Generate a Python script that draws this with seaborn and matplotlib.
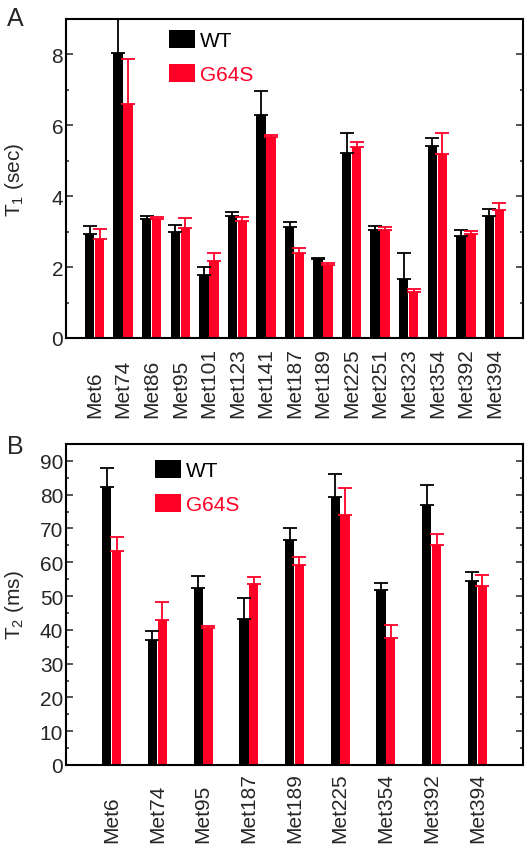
import numpy as np
import pandas as pd
import matplotlib
matplotlib.use("Agg")
import matplotlib.pyplot as plt
import matplotlib.transforms as mtransforms
from matplotlib.ticker import MultipleLocator
import seaborn as sns

# data
residues_a = ["Met6", "Met74", "Met86", "Met95", "Met101", "Met123", "Met141", "Met187",
              "Met189", "Met225", "Met251", "Met323", "Met354", "Met392", "Met394"]
t1_wt = [2.94, 8.05, 3.36, 2.98, 1.78, 3.44, 6.30, 3.14, 2.23, 5.22, 3.05, 1.67, 5.43, 2.87, 3.43]
t1_wt_err = [0.23, 1.30, 0.07, 0.22, 0.22, 0.11, 0.66, 0.14, 0.03, 0.57, 0.12, 0.72, 0.21, 0.19, 0.21]
t1_mut = [2.80, 6.61, 3.35, 3.10, 2.18, 3.30, 5.68, 2.39, 2.07, 5.38, 3.06, 1.29, 5.20, 2.94, 3.60]
t1_mut_err = [0.28, 1.27, 0.07, 0.28, 0.21, 0.11, 0.06, 0.15, 0.05, 0.16, 0.07, 0.09, 0.58, 0.07, 0.21]

residues_b = ["Met6", "Met74", "Met95", "Met187", "Met189", "Met225", "Met354", "Met392", "Met394"]
t2_wt = [82.2, 37.1, 52.3, 43.1, 66.7, 79.4, 51.8, 76.9, 54.6]
t2_wt_err = [5.6, 2.6, 3.7, 6.2, 3.4, 6.6, 2.2, 5.9, 2.6]
t2_mut = [63.4, 42.9, 40.4, 53.6, 59.2, 73.9, 37.6, 65.2, 53.0]
t2_mut_err = [4.1, 5.2, 0.8, 2.0, 2.5, 8.1, 3.8, 3.3, 3.3]

groups = ["WT", "G64S"]
colors = ["#000000", "#FF0026"]

sns.set_style("ticks")
plt.rcParams["font.family"] = ["Liberation Sans", "DejaVu Sans"]
plt.rcParams["mathtext.fontset"] = "custom"
plt.rcParams["mathtext.rm"] = "Liberation Sans"
plt.rcParams["mathtext.it"] = "Liberation Sans:italic"

fig = plt.figure(figsize=(5.3, 8.53), dpi=100)
W, H = 530, 853
ax_a = fig.add_axes([66 / W, 1 - 339 / H, 457 / W, 319 / H])
ax_b = fig.add_axes([66 / W, 1 - 766 / H, 457 / W, 321 / H])


def make_df(res, wt, mut):
    return pd.DataFrame({
        "res": res * 2,
        "val": list(wt) + list(mut),
        "type": ["WT"] * len(res) + ["G64S"] * len(res),
    })


def draw_panel(ax, res, wt, wt_err, mut, mut_err, width, ylim, major, minor,
               ylabel, leg_anchor, label_y):
    df = make_df(res, wt, mut)
    sns.barplot(data=df, x="res", y="val", hue="type", hue_order=groups,
                palette=colors, saturation=1, width=width, gap=0.06,
                errorbar=None, linewidth=0, legend=False, ax=ax)
    # upper-only error bars on each bar
    for cont, err, col in zip(ax.containers, [wt_err, mut_err], colors):
        xs = [p.get_x() + p.get_width() / 2 for p in cont.patches]
        hs = [p.get_height() for p in cont.patches]
        ax.errorbar(xs, hs, yerr=[np.zeros(len(err)), err], fmt="none",
                    ecolor=col, elinewidth=1.3, capsize=5, capthick=1.3, zorder=1)
    ax.set_xlim(-1, len(res))
    ax.set_ylim(*ylim)
    ax.yaxis.set_major_locator(MultipleLocator(major))
    ax.yaxis.set_minor_locator(MultipleLocator(minor))
    ax.tick_params(axis="y", which="both", direction="in", left=True, right=True,
                   labelsize=15, width=1.1, pad=2)
    ax.tick_params(axis="y", which="major", length=5)
    ax.tick_params(axis="y", which="minor", length=2.5)
    ax.tick_params(axis="x", bottom=False, labelbottom=False)
    for s in ax.spines.values():
        s.set_linewidth(1.5)
        s.set_color("black")
    ax.set_xlabel("")
    ax.set_ylabel(ylabel, fontsize=15)
    ax.yaxis.set_label_coords(-0.087, 0.5)
    # rotated residue labels, aligned at their start
    trans = mtransforms.blended_transform_factory(ax.transData, ax.transAxes)
    for i, name in enumerate(res):
        ax.text(i, label_y, name, transform=trans, rotation=90, ha="center",
                va="bottom", fontsize=15)
    leg = ax.legend(ax.containers, groups, loc="upper left", bbox_to_anchor=leg_anchor,
                    frameon=False, fontsize=15, handlelength=1.25, handleheight=0.95,
                    handletextpad=0.25, labelspacing=0.65, borderpad=0, borderaxespad=0)
    for t, c in zip(leg.get_texts(), colors):
        t.set_color(c)


draw_panel(ax_a, residues_a, t1_wt, t1_wt_err, t1_mut, t1_mut_err, 0.70, (0, 9), 2, 1,
           r"T$_\mathregular{1}$ (sec)", (0.225, 0.966), -0.248)
draw_panel(ax_b, residues_b, t2_wt, t2_wt_err, t2_mut, t2_mut_err, 0.43, (0, 95), 10, 5,
           r"T$_\mathregular{2}$ (ms)", (0.195, 0.95), -0.240)

fig.text(7 / W, 1 - 26 / H, "A", fontsize=18)
fig.text(7 / W, 1 - 454 / H, "B", fontsize=18)

fig.savefig("out.png", dpi=100)
